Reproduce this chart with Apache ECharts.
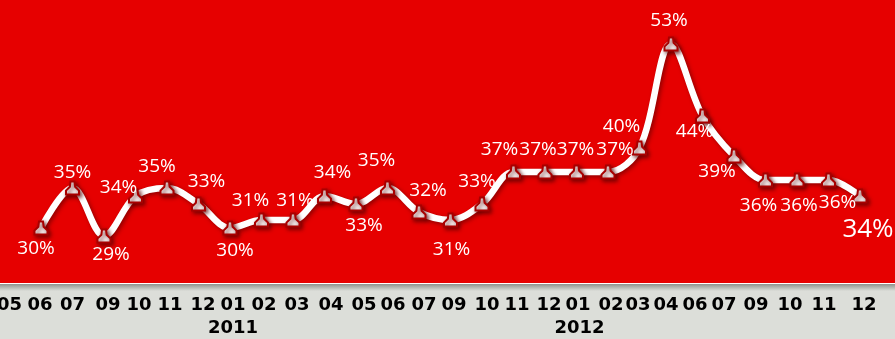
<!DOCTYPE html>
<html><head><meta charset="utf-8">
<style>html,body{margin:0;padding:0;background:#dcded9}#c{width:895px;height:339px}</style>
<script src="https://cdn.jsdelivr.net/npm/echarts@6/dist/echarts.min.js"></script>
</head><body><div id="c"></div>
<script>
const categories = ['05','06','07','09','10','11','12','01','02','03','04','05','06','07','09','10','11','12','01','02','03','04','06','07','09','10','11','12'];
const yearLabels = {7:'2011',18:'2012'};
const values = [null,30,35,29,34,35,33,30,31,31,34,33,35,32,31,33,37,37,37,37,40,53,44,39,36,36,36,34];
const labelOffsets = [[0,0],[-5,21],[0,-15],[7,19],[-17,-8],[-10,-21],[8,-22],[5,23],[-11,-19],[2,-19],[8,-23],[8,22],[-11,-27],[9,-21],[1,30],[-5,-22],[-14,-22],[-7,-22],[-1,-22],[7,-22],[-18,-21],[-2,-23],[-8,16],[-17,16],[-7,26],[2,26],[9,23],[8,34]];
const tickShifts = [0,-1,0,4,3.5,3,4.5,3,2.5,4,6.5,8,5.5,5,3.5,5,3.5,4,1.5,3,-1.5,-5,-7.5,-10,-9.5,-7,-4.5,4];
const symbolPath = 'path://M3.5,0 L6.5,0 L7,4 L10,7 L10,10 L0,10 L0,7 L3,4 Z';
const rich = {};
tickShifts.forEach((s,i)=>{
  rich['t'+i] = {color:'#000',fontFamily:'DejaVu Sans',fontWeight:'bold',fontSize:18,
    padding: s>=0 ? [0,0,0,2*s] : [0,-2*s,0,0]};
});
const chart = echarts.init(document.getElementById('c'), null, {renderer:'canvas'});
const axisBase = {type:'category',boundaryGap:false,data:categories,position:'bottom',
  axisLine:{show:false},axisTick:{show:false},splitLine:{show:false}};
chart.setOption({
  animation:false,
  graphic:[
    {type:'rect',z:-10,silent:true,shape:{x:0,y:0,width:895,height:283},style:{fill:'#e60000'}},
    {type:'rect',z:-10,silent:true,shape:{x:0,y:283,width:895,height:1},style:{fill:'#ffffff'}},
    {type:'rect',z:-10,silent:true,shape:{x:0,y:284,width:895,height:7},style:{fill:new echarts.graphic.LinearGradient(0,0,0,1,[{offset:0,color:'#8f918d'},{offset:1,color:'#dcded9'}])}},
    {type:'rect',z:-10,silent:true,shape:{x:0,y:291,width:895,height:48},style:{fill:'#dcded9'}}
  ],
  grid:{left:9.5,right:35,top:20,bottom:63,outerBoundsMode:'none'},
  xAxis:[
    Object.assign({},axisBase,{axisLabel:{interval:0,margin:20,hideOverlap:false,rich,
      formatter:(v,i)=>'{t'+i+'|'+v+'}'}}),
    Object.assign({},axisBase,{axisLabel:{interval:0,margin:43,hideOverlap:false,color:'#000',fontFamily:'DejaVu Sans',fontWeight:'bold',fontSize:18,padding:[0,0,0,6],
      formatter:(v,i)=>yearLabels[i]||''}})
  ],
  yAxis:{type:'value',min:24,max:56,show:false,splitLine:{show:false}},
  series:[{type:'line',data:values.map((v,i)=>i===values.length-1?{value:v,label:{fontSize:26}}:v),smooth:0.35,connectNulls:false,
    lineStyle:{color:'#fff',width:6.5,shadowColor:'rgba(90,0,0,0.6)',shadowBlur:4,shadowOffsetX:2,shadowOffsetY:2},
    symbol:symbolPath,symbolSize:[13,13],showAllSymbol:true,
    itemStyle:{color:'#fff',borderColor:'#a80000',borderWidth:2,shadowColor:'rgba(90,0,0,0.8)',shadowBlur:4,shadowOffsetX:2,shadowOffsetY:2},
    label:{show:true,position:'inside',color:'#fff',fontFamily:'Open Sans',fontSize:19,
      formatter:p=>p.value+'%'},
    labelLayout:p=>({dx:labelOffsets[p.dataIndex][0],dy:labelOffsets[p.dataIndex][1]})
  }]
});
</script></body></html>
